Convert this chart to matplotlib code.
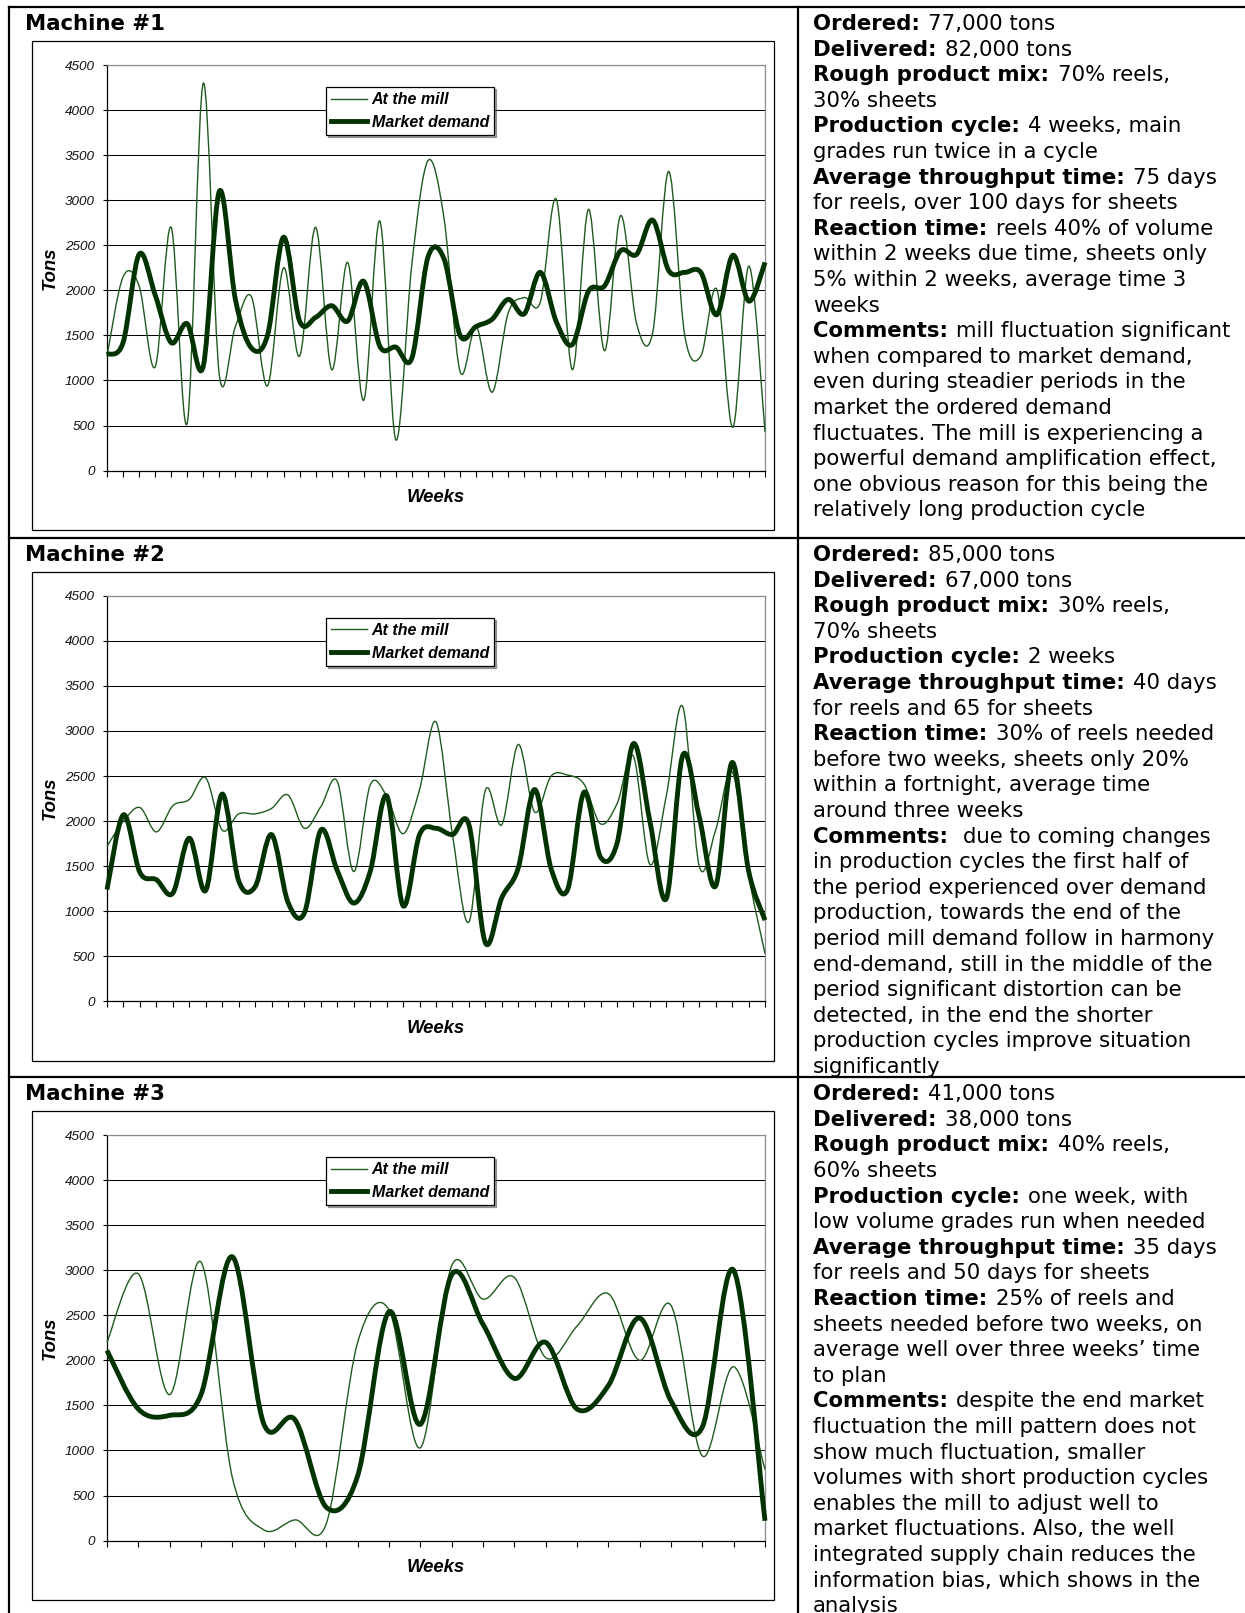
import numpy as np
import matplotlib
matplotlib.use("Agg")
import matplotlib.pyplot as plt
from matplotlib.path import Path
from matplotlib.patches import PathPatch, Rectangle
from matplotlib.lines import Line2D
from matplotlib.font_manager import FontProperties

# ---------------- data ----------------
machine_titles = ["Machine #1", "Machine #2", "Machine #3"]
series_names = ["At the mill", "Market demand"]
y_axis_label = "Tons"
x_axis_label = "Weeks"
y_ticks = [0, 500, 1000, 1500, 2000, 2500, 3000, 3500, 4000, 4500]

m1_at_mill = [1270, 2150, 2050, 1150, 2700, 530, 4300, 1060, 1600, 1930,
              940, 2250, 1270, 2700, 1120, 2310, 780, 2770, 340, 2300,
              3440, 2800, 1100, 1600, 870, 1750, 1920, 1870, 3010, 1120,
              2900, 1330, 2830, 1630, 1530, 3320, 1500, 1270, 2010, 480,
              2270, 430]
m1_market = [1290, 1420, 2400, 1950, 1420, 1630, 1160, 3100, 1900, 1360,
             1500, 2590, 1660, 1700, 1830, 1660, 2100, 1380, 1370, 1250,
             2370, 2350, 1500, 1600, 1680, 1900, 1740, 2200, 1650, 1400,
             1990, 2050, 2440, 2400, 2780, 2220, 2200, 2200, 1730, 2390,
             1880, 2310]

m2_at_mill = [1720, 2000, 2150, 1880, 2170, 2240, 2480, 1900, 2080, 2080,
              2140, 2290, 1920, 2160, 2440, 1440, 2400, 2280, 1860, 2350,
              3100, 1850, 880, 2340, 1960, 2850, 2100, 2500, 2510, 2410,
              1970, 2190, 2720, 1520, 2280, 3270, 1500, 1900, 2550, 1400,
              530]
m2_market = [1240, 2070, 1430, 1350, 1200, 1810, 1230, 2300, 1340, 1270,
             1850, 1100, 980, 1900, 1450, 1090, 1440, 2280, 1060, 1850,
             1920, 1850, 1960, 650, 1150, 1480, 2350, 1470, 1240, 2320,
             1600, 1750, 2860, 2000, 1140, 2730, 2050, 1280, 2650, 1450,
             900]

m3_at_mill = [2200, 2960, 1620, 3090, 700, 120, 230, 190, 2200, 2560,
              1030, 3050, 2680, 2920, 2030, 2380, 2740, 2000, 2610, 940,
              1930, 790]
m3_market = [2110, 1460, 1390, 1620, 3150, 1300, 1340, 370, 720, 2540,
             1290, 2950, 2400, 1800, 2200, 1460, 1720, 2470, 1550, 1260,
             3000, 220]

m1_text = [
    ("Ordered:", "77,000 tons"),
    ("Delivered:", "82,000 tons"),
    ("Rough product mix:", "70% reels,"),
    ("", "30% sheets"),
    ("Production cycle:", "4 weeks, main"),
    ("", "grades run twice in a cycle"),
    ("Average throughput time:", "75 days"),
    ("", "for reels, over 100 days for sheets"),
    ("Reaction time:", "reels 40% of volume"),
    ("", "within 2 weeks due time, sheets only"),
    ("", "5% within 2 weeks, average time 3"),
    ("", "weeks"),
    ("Comments:", "mill fluctuation significant"),
    ("", "when compared to market demand,"),
    ("", "even during steadier periods in the"),
    ("", "market the ordered demand"),
    ("", "fluctuates. The mill is experiencing a"),
    ("", "powerful demand amplification effect,"),
    ("", "one obvious reason for this being the"),
    ("", "relatively long production cycle"),
]
m2_text = [
    ("Ordered:", "85,000 tons"),
    ("Delivered:", "67,000 tons"),
    ("Rough product mix:", "30% reels,"),
    ("", "70% sheets"),
    ("Production cycle:", "2 weeks"),
    ("Average throughput time:", "40 days"),
    ("", "for reels and 65 for sheets"),
    ("Reaction time:", "30% of reels needed"),
    ("", "before two weeks, sheets only 20%"),
    ("", "within a fortnight, average time"),
    ("", "around three weeks"),
    ("Comments:", "  due to coming changes"),
    ("", "in production cycles the first half of"),
    ("", "the period experienced over demand"),
    ("", "production, towards the end of the"),
    ("", "period mill demand follow in harmony"),
    ("", "end-demand, still in the middle of the"),
    ("", "period significant distortion can be"),
    ("", "detected, in the end the shorter"),
    ("", "production cycles improve situation"),
    ("", "significantly"),
]
m3_text = [
    ("Ordered:", "41,000 tons"),
    ("Delivered:", "38,000 tons"),
    ("Rough product mix:", "40% reels,"),
    ("", "60% sheets"),
    ("Production cycle:", "one week, with"),
    ("", "low volume grades run when needed"),
    ("Average throughput time:", "35 days"),
    ("", "for reels and 50 days for sheets"),
    ("Reaction time:", "25% of reels and"),
    ("", "sheets needed before two weeks, on"),
    ("", "average well over three weeks\u2019 time"),
    ("", "to plan"),
    ("Comments:", "despite the end market"),
    ("", "fluctuation the mill pattern does not"),
    ("", "show much fluctuation, smaller"),
    ("", "volumes with short production cycles"),
    ("", "enables the mill to adjust well to"),
    ("", "market fluctuations. Also, the well"),
    ("", "integrated supply chain reduces the"),
    ("", "information bias, which shows in the"),
    ("", "analysis"),
]

rows = [
    (machine_titles[0], m1_at_mill, m1_market, m1_text),
    (machine_titles[1], m2_at_mill, m2_market, m2_text),
    (machine_titles[2], m3_at_mill, m3_market, m3_text),
]

# ---------------- layout (pixels) ----------------
W, H, DPI = 1245, 1613, 100
row_tops = [7.3, 538.0, 1077.3]
first_baselines = [30.1, 561.0, 1100.2]
LINE_H = 25.6
TEXT_X = 813
PLOT_X0, PLOT_X1 = 107, 765
BOX_X0, BOX_X1 = 32, 774
COL_X = 798
LEFT_X = 8.5

MILL_COLOR = "#1f5a1f"
MARKET_COLOR = "#003300"
MILL_LW = 1.0
MARKET_LW = 3.5

text_fs = 15.3
fp_reg = FontProperties(family="DejaVu Sans", size=text_fs)
fp_bold = FontProperties(family="DejaVu Sans", size=text_fs, weight="bold")
fp_tick = FontProperties(family="Liberation Sans", size=9.7, style="italic")
fp_label = FontProperties(family="Liberation Sans", size=13.3, style="italic", weight="bold")
fp_leg = FontProperties(family="Liberation Sans", size=11.5, style="italic", weight="bold")


def fig_rect(x0, y0, x1, y1):
    return [x0 / W, 1 - y1 / H, (x1 - x0) / W, (y1 - y0) / H]


def smooth_path(xs, ys):
    xs = np.asarray(xs, float)
    ys = np.asarray(ys, float)
    n = len(xs)
    verts = [(xs[0], ys[0])]
    codes = [Path.MOVETO]
    for i in range(n - 1):
        i0, i3 = max(i - 1, 0), min(i + 2, n - 1)
        p0 = np.array([xs[i0], ys[i0]])
        p1 = np.array([xs[i], ys[i]])
        p2 = np.array([xs[i + 1], ys[i + 1]])
        p3 = np.array([xs[i3], ys[i3]])
        c1 = p1 + (p2 - p0) / 6.0
        c2 = p2 - (p3 - p1) / 6.0
        verts += [tuple(c1), tuple(c2), tuple(p2)]
        codes += [Path.CURVE4] * 3
    return Path(verts, codes)


fig = plt.figure(figsize=(W / DPI, H / DPI), dpi=DPI)
fig.patch.set_facecolor("white")
bg = fig.add_axes([0, 0, 1, 1])
bg.set_xlim(0, W)
bg.set_ylim(H, 0)
bg.axis("off")
renderer = fig.canvas.get_renderer()

# table borders
TB_LW = 1.6
bg.plot([LEFT_X, W], [row_tops[0], row_tops[0]], color="black", lw=TB_LW, solid_capstyle="projecting")
bg.plot([LEFT_X, LEFT_X], [row_tops[0], H], color="black", lw=TB_LW, solid_capstyle="projecting")
bg.plot([COL_X, COL_X], [row_tops[0], H], color="black", lw=TB_LW)
for rt in row_tops[1:]:
    bg.plot([LEFT_X, W], [rt, rt], color="black", lw=TB_LW)

for k, (title, mill, market, lines) in enumerate(rows):
    r = row_tops[k]
    base0 = first_baselines[k]
    # title
    bg.text(25, base0, title, fontproperties=fp_bold, ha="left", va="baseline")
    # chart area box
    bg.add_patch(Rectangle((BOX_X0, r + 34), BOX_X1 - BOX_X0, 489,
                           fill=False, ec="black", lw=0.9))
    plot_top, plot_bot = r + 57.8, r + 463.3
    ax = fig.add_axes(fig_rect(PLOT_X0, plot_top, PLOT_X1, plot_bot))
    ax.set_facecolor("white")
    n = len(mill)
    xs = np.arange(n)
    for vals, col, lw in ((mill, MILL_COLOR, MILL_LW), (market, MARKET_COLOR, MARKET_LW)):
        patch = PathPatch(smooth_path(xs, vals), fill=False, edgecolor=col, lw=lw,
                          capstyle="butt", joinstyle="round", clip_on=False, zorder=3)
        ax.add_patch(patch)
    ax.set_xlim(0, n - 1)
    ax.set_ylim(0, 4500)
    ax.set_yticks(y_ticks)
    ax.set_yticklabels([str(v) for v in y_ticks])
    for lab in ax.get_yticklabels():
        lab.set_fontproperties(fp_tick)
        lab.set_color("#111111")
    ax.set_xticks(xs)
    ax.set_xticklabels([])
    ax.tick_params(axis="y", direction="out", length=3.2, width=0.8, pad=5.5, color="black")
    ax.tick_params(axis="x", direction="out", length=4.5, width=0.8, color="black")
    ax.yaxis.grid(True, color="black", lw=0.75)
    ax.set_axisbelow(True)
    for side in ("left", "bottom"):
        ax.spines[side].set_color("black")
        ax.spines[side].set_linewidth(0.9)
    for side in ("top", "right"):
        ax.spines[side].set_color("#8c8c8c")
        ax.spines[side].set_linewidth(0.9)
    # axis titles
    bg.text(50.4, (plot_top + plot_bot) / 2, y_axis_label, rotation=90,
            fontproperties=fp_label, ha="center", va="center")
    bg.text((PLOT_X0 + PLOT_X1) / 2, r + 490.5, x_axis_label,
            fontproperties=fp_label, ha="center", va="center")
    # legend
    handles = [Line2D([], [], color=MILL_COLOR, lw=MILL_LW),
               Line2D([], [], color=MARKET_COLOR, lw=MARKET_LW)]
    leg = ax.legend(handles, series_names, loc="upper left",
                    bbox_to_anchor=(326 / W, 1 - (r + 80) / H),
                    bbox_transform=fig.transFigure, borderaxespad=0,
                    frameon=True, fancybox=False, edgecolor="black",
                    framealpha=1, prop=fp_leg, handlelength=2.25,
                    handletextpad=0.3, borderpad=0.3, labelspacing=0.5,
                    shadow={"ox": 1.5, "oy": -1.5})
    leg.get_frame().set_linewidth(0.9)
    leg.set_zorder(5)

    # right-hand text
    for j, (bold, rest) in enumerate(lines):
        y = base0 + j * LINE_H
        x = TEXT_X
        if bold:
            t = bg.text(x, y, bold, fontproperties=fp_bold, ha="left", va="baseline")
            w = t.get_window_extent(renderer).width
            lead = len(rest) - len(rest.lstrip(" "))
            x = x + w + 8.5 + max(lead - 1, 0) * 6.8
            rest = rest.lstrip(" ")
        if rest:
            bg.text(x, y, rest, fontproperties=fp_reg, ha="left", va="baseline")

fig.savefig("out.png", dpi=DPI, facecolor="white")
